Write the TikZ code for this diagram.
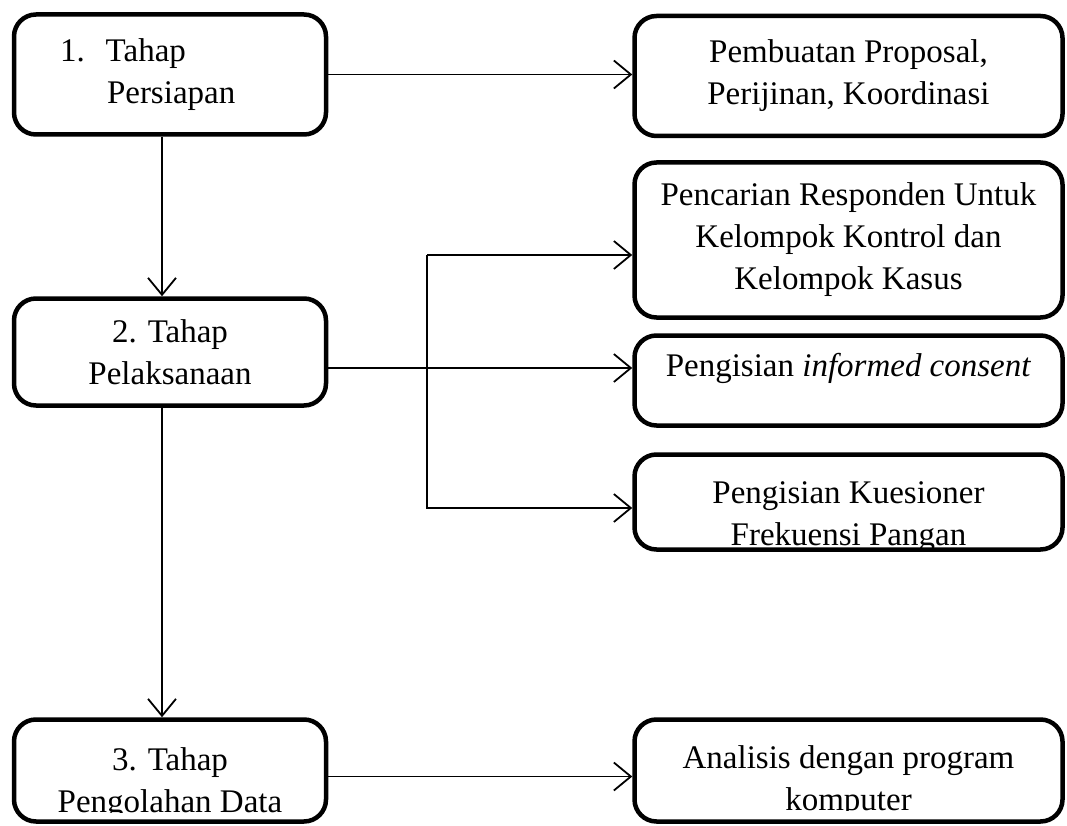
\documentclass[tikz,border=0pt]{standalone}
\usepackage{fontspec}
\setmainfont{Liberation Serif}
\usetikzlibrary{arrows.meta}

\begin{document}
\begin{tikzpicture}[x=1pt,y=-1pt]
\tikzstyle{stage} = [draw=black, line width=4.5pt, rounded corners=22pt, align=center, inner sep=0pt, font=\fontsize{33}{42}\selectfont]
\tikzstyle{words} = [align=center, inner sep=0pt, font=\fontsize{33}{42}\selectfont]
\tikzstyle{flow} = [draw=black, line width=1.8pt, -{Straight Barb[length=17pt,width=28pt,line width=1.8pt]}]

\useasboundingbox (0,0) rectangle (1067,826);
\clip (0,0) rectangle (1067,826);

\node[stage, minimum width=312pt, minimum height=120pt, text width=270pt, align=left] (prep) at (170,74.5) {\hspace*{25pt}1.\hspace{21pt}Tahap\\\hspace*{72pt}Persiapan};
\node[stage, minimum width=312pt, minimum height=107pt] (laks) at (170,352) {2. Tahap\\Pelaksanaan};
\begin{scope}
\clip (14,719) rectangle (326,812);
\node[words] (olahtext) at (170,784) {3. Tahap\\Pengolahan Data};
\end{scope}
\node[stage, minimum width=312pt, minimum height=102pt] (olah) at (170,770.5) {};

\node[stage, minimum width=428pt, minimum height=120pt] (prop) at (848.5,76) {Pembuatan Proposal,\\Perijinan, Koordinasi};
\node[stage, minimum width=428pt, minimum height=155pt] (cari) at (848.5,240) {Pencarian Responden Untuk\\Kelompok Kontrol dan\\Kelompok Kasus};
\node[stage, minimum width=428pt, minimum height=90pt, text depth=31pt] (consent) at (848.5,380.5) {Pengisian \textit{informed consent}};
\begin{scope}
\clip (634,454) rectangle (1063,549);
\node[words] (kuestext) at (848.5,517) {Pengisian Kuesioner\\Frekuensi Pangan};
\end{scope}
\node[stage, minimum width=428pt, minimum height=95pt] (kues) at (848.5,502) {};
\begin{scope}
\clip (634,719) rectangle (1063,810);
\node[words] (analtext) at (848.5,782) {Analisis dengan program\\komputer};
\end{scope}
\node[stage, minimum width=428pt, minimum height=102pt] (anal) at (848.5,770.5) {};

\coordinate (fork) at (427,255);

\draw[flow] (prep) -- (prep -| prop.west);
\draw[flow] ([xshift=-8pt]prep.south) -- ([xshift=-8pt]laks.north);
\draw[flow] ([xshift=-8pt]laks.south) -- ([xshift=-8pt]olah.north);
\draw[flow] ([yshift=-16pt]laks.east) -- ([yshift=-16pt]laks.east -| consent.west);
\draw[flow] (fork) -- (fork -| cari.west);
\draw[flow] (fork) |- ([yshift=-6pt]kues.west);
\draw[flow] ([yshift=-6pt]olah.east) -- ([yshift=-6pt]olah.east -| anal.west);
\end{tikzpicture}
\end{document}
